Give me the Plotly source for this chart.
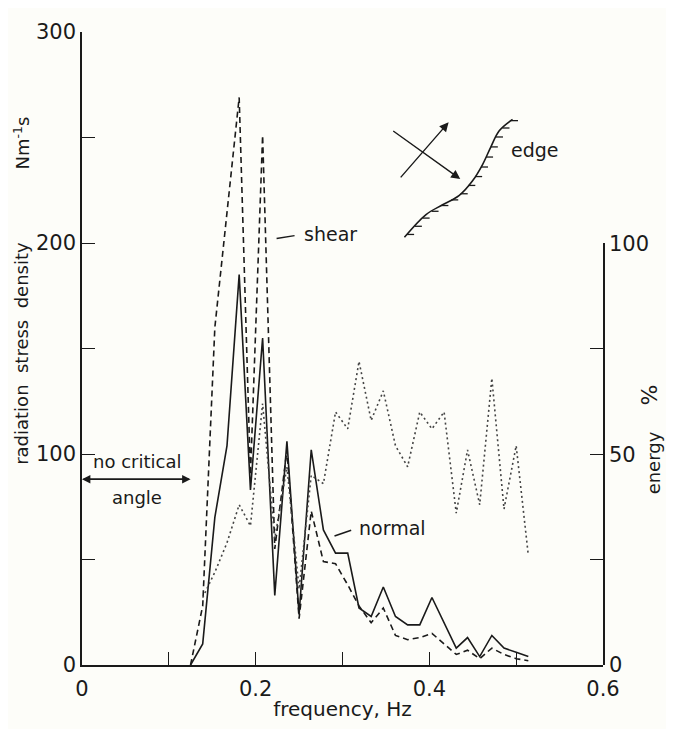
import numpy as np
import plotly.graph_objects as go

# ---- data ----
freq = [0.125, 0.139, 0.153, 0.167, 0.181, 0.194, 0.208, 0.222, 0.236, 0.250,
        0.264, 0.278, 0.292, 0.306, 0.319, 0.333, 0.347, 0.361, 0.375, 0.389,
        0.403, 0.417, 0.431, 0.444, 0.458, 0.472, 0.486, 0.500, 0.514]
normal = [0, 10, 70, 104, 185, 83, 155, 33, 106, 24,
          102, 64, 53, 53, 27, 23, 37, 23, 19, 19,
          32, 20, 8, 13, 4, 14, 8, 6, 4]
shear = [0, 28, 160, 215, 269, 90, 251, 55, 102, 22,
         73, 49, 48, 38, 28, 20, 27, 14, 12, 13,
         15, 10, 5, 7, 3, 8, 5, 3, 2]
energy_freq = freq[1:]
energy = [16, 22, 29, 38, 33, 62, 30, 47, 18, 45,
          43, 60, 56, 72, 58, 65, 52, 47, 60, 56,
          60, 36, 51, 38, 68, 37, 52, 26]

x_ticks = [0, 0.1, 0.2, 0.3, 0.4, 0.5, 0.6]
x_ticklabels = ["0", "", "0.2", "", "0.4", "", "0.6"]
y_ticks = [0, 50, 100, 150, 200, 250, 300]
y_ticklabels = ["0", "", "100", "", "200", "", "300"]
y2_ticks = [0, 25, 50, 75, 100]
y2_ticklabels = ["0", "", "50", "", "100"]

# inset sketch (data units of the main axes)
edge_f = [0.3713, 0.3962, 0.4153, 0.4345, 0.4498, 0.4613, 0.4709, 0.4805, 0.4958]
edge_v = [202.7, 213.5, 218.1, 222.6, 229.5, 237.2, 245.6, 253.2, 258.6]
arrow1 = (0.3655, 230.4, 0.4222, 257.2)
arrow2 = (0.3567, 253.6, 0.4356, 230.3)

FONT = "DejaVu Sans"
INK = "#1a1a1a"
BG = "#fdfdf9"

fig = go.Figure()
fig.add_trace(go.Scatter(x=freq, y=shear, mode="lines",
                         line=dict(color=INK, width=1.6, dash="6px,4px"),
                         showlegend=False))
fig.add_trace(go.Scatter(x=freq, y=normal, mode="lines",
                         line=dict(color=INK, width=1.6),
                         showlegend=False))
fig.add_trace(go.Scatter(x=energy_freq, y=energy, mode="lines", yaxis="y2",
                         line=dict(color="#444444", width=1.6, dash="2px,3px"),
                         showlegend=False))

# edge curve with hatching
fig.add_trace(go.Scatter(x=edge_f, y=edge_v, mode="lines",
                         line=dict(color=INK, width=1.6, shape="spline"),
                         showlegend=False, hoverinfo="skip"))
ef = np.array(edge_f); ev = np.array(edge_v)
px = (ef * 870.0); py = -(ev * 2.177)
seg = np.hypot(np.diff(px), np.diff(py))
s = np.concatenate([[0], np.cumsum(seg)])
hs = np.linspace(4, s[-1] - 2, 15)
hx, hy = [], []
for t in hs:
    fx = np.interp(t, s, ef); fy = np.interp(t, s, ev)
    hx += [fx, fx + 7 / 870.0, None]
    hy += [fy, fy, None]
fig.add_trace(go.Scatter(x=hx, y=hy, mode="lines",
                         line=dict(color=INK, width=1.3),
                         showlegend=False, hoverinfo="skip"))

# leader lines for the series labels
fig.add_trace(go.Scatter(x=[0.2241, 0.2448, None, 0.2908, 0.3100],
                         y=[202.1, 203.5, None, 61.1, 63.9], mode="lines",
                         line=dict(color=INK, width=1.5),
                         showlegend=False, hoverinfo="skip"))

ann = []
for (x0, y0, x1, y1) in (arrow1, arrow2):
    ann.append(dict(x=x1, y=y1, ax=x0, ay=y0, xref="x", yref="y",
                    axref="x", ayref="y", showarrow=True, arrowhead=2,
                    arrowsize=1.3, arrowwidth=1.4, arrowcolor=INK, text=""))
# no critical angle double arrow
ARR_Y = 88
ann.append(dict(x=0.0, y=ARR_Y, ax=0.125, ay=ARR_Y, xref="x", yref="y",
                axref="x", ayref="y", showarrow=True, arrowhead=2,
                arrowsize=1.2, arrowwidth=1.4, arrowcolor=INK, text=""))
ann.append(dict(x=0.125, y=ARR_Y, ax=0.0, ay=ARR_Y, xref="x", yref="y",
                axref="x", ayref="y", showarrow=True, arrowhead=2,
                arrowsize=1.2, arrowwidth=1.4, arrowcolor=INK, text=""))
ann.append(dict(x=0.063, y=ARR_Y + 8.5, xref="x", yref="y", text="no critical",
                xanchor="center", yanchor="middle", showarrow=False,
                font=dict(family=FONT, size=18, color=INK)))
ann.append(dict(x=0.063, y=ARR_Y - 8.5, xref="x", yref="y", text="angle",
                xanchor="center", yanchor="middle", showarrow=False,
                font=dict(family=FONT, size=18, color=INK)))
# series labels
ann.append(dict(x=0.2529, y=204.4, xref="x", yref="y", text="shear",
                xanchor="left", yanchor="middle", showarrow=False,
                font=dict(family=FONT, size=19, color=INK)))
ann.append(dict(x=0.3164, y=64.9, xref="x", yref="y", text="normal",
                xanchor="left", yanchor="middle", showarrow=False,
                font=dict(family=FONT, size=19, color=INK)))
ann.append(dict(x=0.492, y=244, xref="x", yref="y", text="edge",
                xanchor="left", yanchor="middle", showarrow=False,
                font=dict(family=FONT, size=19, color=INK)))


def pxy(px_, py_):
    return (px_ - 82) / 521.0, (673 - py_) / 653.0


xa, ya = pxy(22, 352)
ann.append(dict(x=xa, y=ya, xref="paper", yref="paper",
                text="radiation\u00a0\u00a0stress\u00a0\u00a0density",
                textangle=-90, showarrow=False, xanchor="center", yanchor="middle",
                font=dict(family=FONT, size=18, color=INK)))
xa, ya = pxy(22, 135)
ann.append(dict(x=xa, y=ya, xref="paper", yref="paper",
                text="Nm<sup>-1</sup>s", textangle=-90, showarrow=False,
                xanchor="center", yanchor="middle",
                font=dict(family=FONT, size=18, color=INK)))
xa, ya = pxy(653, 465)
ann.append(dict(x=xa, y=ya, xref="paper", yref="paper", text="energy",
                textangle=-90, showarrow=False, xanchor="center", yanchor="middle",
                font=dict(family=FONT, size=18, color=INK)))
xa, ya = pxy(650, 395)
ann.append(dict(x=xa, y=ya, xref="paper", yref="paper", text="%",
                textangle=-90, showarrow=False, xanchor="center", yanchor="middle",
                font=dict(family=FONT, size=22, color=INK)))

# page body has an 8px margin: the figure is drawn 8px in from the corner
fig.update_layout(
    width=666, height=721,
    margin=dict(l=74, r=71, t=12, b=56),
    paper_bgcolor=BG, plot_bgcolor="rgba(0,0,0,0)",
    font=dict(family=FONT, color=INK),
    xaxis=dict(range=[0, 0.6], tickvals=x_ticks, ticktext=x_ticklabels,
               ticks="inside", ticklen=13, tickwidth=1.3, tickcolor=INK,
               showline=True, linecolor=INK, linewidth=1.5,
               showgrid=False, zeroline=False, ticklabelstandoff=4,
               tickfont=dict(family=FONT, size=21, color=INK),
               title=dict(text="frequency, Hz", standoff=2,
                          font=dict(family=FONT, size=20, color=INK))),
    yaxis=dict(range=[0, 300], tickvals=y_ticks, ticktext=y_ticklabels,
               ticks="inside", ticklen=13, tickwidth=1.3, tickcolor=INK,
               showline=True, linecolor=INK, linewidth=1.5,
               showgrid=False, zeroline=False,
               tickfont=dict(family=FONT, size=21, color=INK)),
    yaxis2=dict(range=[0, 100], domain=[0, 435 / 653.0], anchor="x",
                side="right", tickvals=y2_ticks, ticktext=y2_ticklabels,
                ticks="inside", ticklen=13, tickwidth=1.3, tickcolor=INK,
                showline=True, linecolor=INK, linewidth=1.5,
                showgrid=False, zeroline=False,
                tickfont=dict(family=FONT, size=21, color=INK)),
    annotations=ann,
)

fig.write_html("out.html")
